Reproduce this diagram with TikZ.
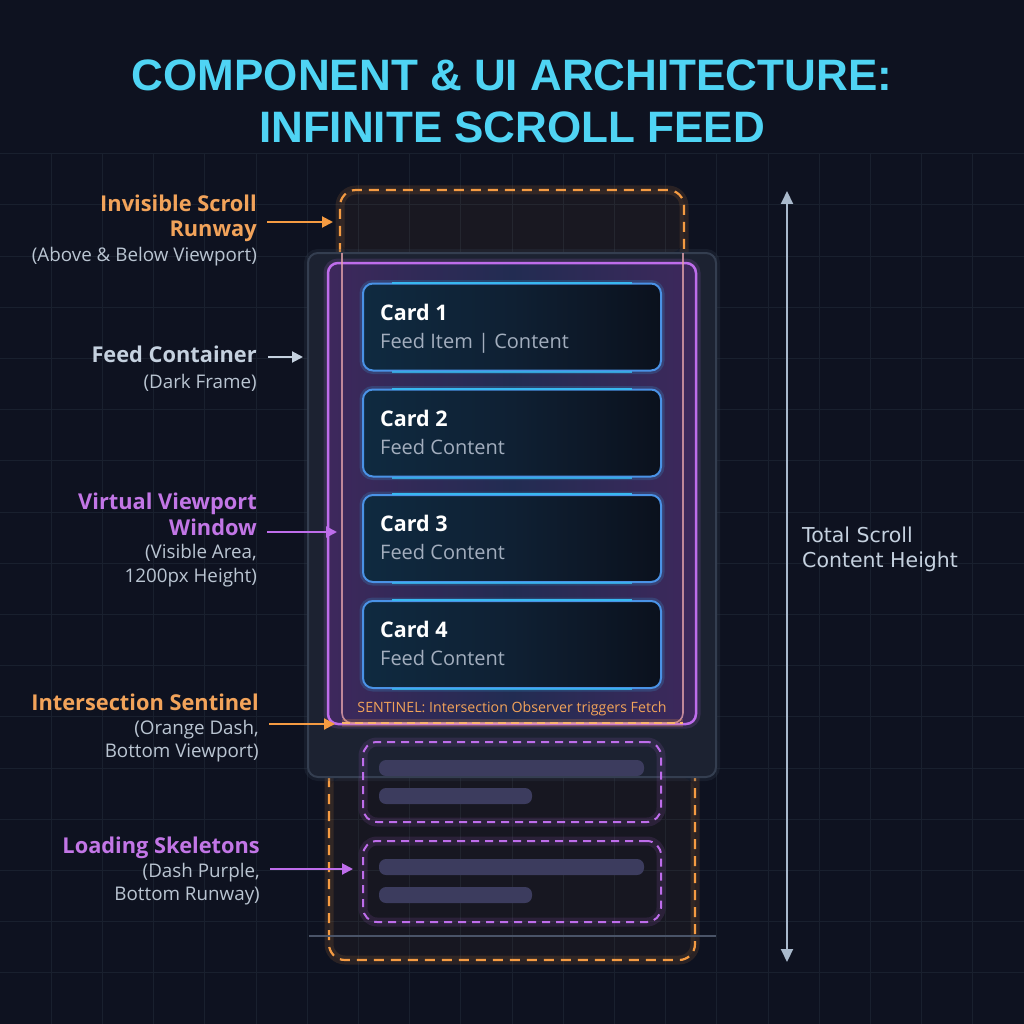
\documentclass[tikz,border=0pt]{standalone}
\usepackage{fontspec}
\setmainfont{Open Sans}
\newfontfamily\arialf{Liberation Sans}
\newfontfamily\dejaf{DejaVu Sans}
\usetikzlibrary{arrows.meta}
\definecolor{bg}{HTML}{0E1220}
\definecolor{gridc}{HTML}{19202E}
\definecolor{titlec}{HTML}{4FD4F4}
\definecolor{orng}{HTML}{F59B42}
\definecolor{orngtxt}{HTML}{F2A35A}
\definecolor{orngpale}{HTML}{FAB46E}
\definecolor{runin}{HTML}{E2A0AA}
\definecolor{purp}{HTML}{BE6DEB}
\definecolor{purptxt}{HTML}{C276E6}
\definecolor{vpedge}{HTML}{3E285C}
\definecolor{vpmid}{HTML}{222C52}
\definecolor{subtxt}{HTML}{BAC5D2}
\definecolor{feedtxt}{HTML}{C5D1DF}
\definecolor{contfill}{HTML}{1C2231}
\definecolor{contline}{HTML}{343E50}
\definecolor{cardline}{HTML}{4A92E6}
\definecolor{cardglow}{HTML}{38B8F0}
\definecolor{cardsub}{HTML}{A3AEBE}
\definecolor{skelbarc}{HTML}{3C3C5E}
\definecolor{scrollc}{HTML}{A9B9CC}
\definecolor{linegray}{HTML}{4A5468}
\definecolor{cardgradA}{HTML}{0F2A40}
\definecolor{cardgradM}{HTML}{0F2033}
\definecolor{cardgradB}{HTML}{0B111D}
\tikzset{
  lblbold/.style={anchor=base east, inner sep=0, font=\fontsize{21.8}{25}\selectfont\bfseries},
  lblsub/.style={anchor=base east, inner sep=0, text=subtxt, font=\fontsize{18.8}{22}\selectfont},
  arr/.style={line width=2, -{Triangle[length=11, width=11]}},
  cardbox/.style={draw=cardline, line width=2, rounded corners=10, minimum width=298, minimum height=87, inner sep=0,
     left color=cardgradA, right color=cardgradB, middle color=cardgradM},
  cardtitle/.style={anchor=base west, inner sep=0, text=white, font=\fontsize{21.5}{25}\selectfont\bfseries},
  cardsubt/.style={anchor=base west, inner sep=0, text=cardsub, font=\fontsize{20}{23}\selectfont},
  skelbox/.style={draw=purp, line width=2, dash pattern=on 8 off 6, rounded corners=14, minimum width=298, inner sep=0},
  skelbarst/.style={fill=skelbarc, rounded corners=7, draw=none},
  rundash/.style={draw=orng, line width=2.2, dash pattern=on 10 off 7, rounded corners=16},
  glowo/.style={draw=orng, line width=9, opacity=0.12, rounded corners=16},
  glowp/.style={draw=purp, line width=9, opacity=0.12, rounded corners=14},
}
\begin{document}
\begin{tikzpicture}[x=1pt,y=-1pt]
\useasboundingbox (0,0) rectangle (1024,1024);
\fill[bg] (0,0) rectangle (1024,1024);
% grid
\foreach \i in {1,...,19} {
  \draw[gridc, line width=1] (\i*51.2,153.6) -- (\i*51.2,1024);
}
\foreach \i in {3,...,19} {
  \draw[gridc, line width=1] (0,\i*51.2) -- (1024,\i*51.2);
}
% title
\node[inner sep=0, text=titlec, font=\arialf\fontsize{44}{50}\selectfont\bfseries] (title1) at (512,75) {COMPONENT \& UI ARCHITECTURE:};
\node[inner sep=0, text=titlec, font=\arialf\fontsize{44}{50}\selectfont\bfseries] (title2) at (512,127) {INFINITE SCROLL FEED};

% runway top
\fill[orng, opacity=0.05, rounded corners=16] (340,253) -- (340,190) -- (684,190) -- (684,253) -- cycle;
\draw[glowo] (340,253) -- (340,190) -- (684,190) -- (684,253);
\draw[rundash] (340,253) -- (340,190) -- (684,190) -- (684,253);
% runway bottom
\fill[orng, opacity=0.04, rounded corners=16] (329,777) -- (329,960) -- (695,960) -- (695,777) -- cycle;
\draw[glowo] (329,777) -- (329,960) -- (695,960) -- (695,777);
\draw[rundash] (329,777) -- (329,960) -- (695,960) -- (695,777);

% container
\draw[contline, line width=8, opacity=0.25, rounded corners=10] (308,253) rectangle (716,777);
\node[draw=contline, fill=contfill, line width=2, rounded corners=10, minimum width=408, minimum height=524, inner sep=0] (cont) at (512,515) {};

% viewport
\draw[purp, line width=9, opacity=0.15, rounded corners=10] (328,263) rectangle (696,724);
\node[draw=purp, line width=2.5, rounded corners=10, minimum width=368, minimum height=461, inner sep=0,
  left color=vpedge, right color=vpedge, middle color=vpmid] (vp) at (512,493.5) {};

% runway inside container
\draw[runin, line width=1.6, opacity=0.8, rounded corners=10] (342,253) -- (342,723) -- (683,723) -- (683,253);

% cards
\foreach \n/\y/\s in {1/327/{Feed Item \textbar\ Content}, 2/433/Feed Content, 3/538.5/Feed Content, 4/644.5/Feed Content} {
  \draw[cardglow, line width=7, opacity=0.18, rounded corners=10] (363,\y-43.5) rectangle (661,\y+43.5);
  \node[cardbox] (card\n) at (512,\y) {};
  \draw[cardglow, line width=2] ([xshift=30]card\n.north west) -- ([xshift=-30]card\n.north east);
  \draw[cardglow, line width=2, opacity=0.8] ([xshift=30]card\n.south west) -- ([xshift=-30]card\n.south east);
  \node[cardtitle] (card\n t) at (380,\y-7) {Card \n};
  \node[cardsubt] (card\n s) at (380,\y+21) {\s};
}

% sentinel
\draw[orng, line width=8, opacity=0.2] (342,723) -- (683,723);
\draw[orngpale, line width=2.2, dash pattern=on 8 off 5] (342,723) -- (683,723);
\node[inner sep=0, text=orngtxt, font=\fontsize{14.2}{16}\selectfont] (senttxt) at (512,709) {SENTINEL: Intersection Observer triggers Fetch};

% skeletons
\draw[glowp] (363,742) rectangle (661,822);
\node[skelbox, minimum height=80] (skel1) at (512,782) {};
\fill[skelbarst] (379,760) rectangle (644,776);
\fill[skelbarst] (379,788) rectangle (532,804);
\draw[glowp] (363,841) rectangle (661,922);
\node[skelbox, minimum height=81] (skel2) at (512,881.5) {};
\fill[skelbarst] (379,859) rectangle (644,875);
\fill[skelbarst] (379,887) rectangle (532,903);

% gray base line
\draw[linegray, line width=1.5] (309,936) -- (716,936);

% total scroll arrow
\coordinate (tsTop) at (787,191);
\coordinate (tsBot) at (787,962);
\draw[scrollc, line width=2, {Triangle[length=13, width=12]}-{Triangle[length=13, width=12]}] (tsTop) -- (tsBot);
\node[anchor=west, inner sep=0, align=left, text=feedtxt, font=\dejaf\fontsize{20.5}{25}\selectfont] (tstxt) at (802,549) {Total Scroll\\Content Height};

% left labels
\node[lblbold, text=orngtxt] (l1a) at (257,211.5) {Invisible Scroll};
\node[lblbold, text=orngtxt] (l1b) at (257,236.5) {Runway};
\node[lblsub] (l1c) at (257,261.5) {(Above \& Below Viewport)};
\node[lblbold, text=feedtxt] (l2a) at (257,362.5) {Feed Container};
\node[lblsub] (l2b) at (257,388.5) {(Dark Frame)};
\node[lblbold, text=purptxt] (l3a) at (257,509.5) {Virtual Viewport};
\node[lblbold, text=purptxt] (l3b) at (257,535.5) {Window};
\node[lblsub] (l3c) at (257,558.5) {(Visible Area,};
\node[lblsub] (l3d) at (257,582.5) {1200px Height)};
\node[lblbold, text=orngtxt] (l4a) at (259,710.5) {Intersection Sentinel};
\node[lblsub] (l4b) at (259,734.5) {(Orange Dash,};
\node[lblsub] (l4c) at (259,757.5) {Bottom Viewport)};
\node[lblbold, text=purptxt] (l5a) at (260,853.5) {Loading Skeletons};
\node[lblsub] (l5b) at (260,877.5) {(Dash Purple,};
\node[lblsub] (l5c) at (260,900.5) {Bottom Runway)};

% label arrows
\coordinate (a1s) at (267,222); \coordinate (a1e) at (333,222);
\coordinate (a2s) at (268,357); \coordinate (a2e) at (303,357);
\coordinate (a3s) at (267,532); \coordinate (a3e) at (337,532);
\coordinate (a4s) at (269,724); \coordinate (a4e) at (335,724);
\coordinate (a5s) at (270,869); \coordinate (a5e) at (353,869);
\draw[arr, orng] (a1s) -- (a1e);
\draw[arr, feedtxt] (a2s) -- (a2e);
\draw[arr, purp] (a3s) -- (a3e);
\draw[arr, orng] (a4s) -- (a4e);
\draw[arr, purp] (a5s) -- (a5e);
\end{tikzpicture}
\end{document}
